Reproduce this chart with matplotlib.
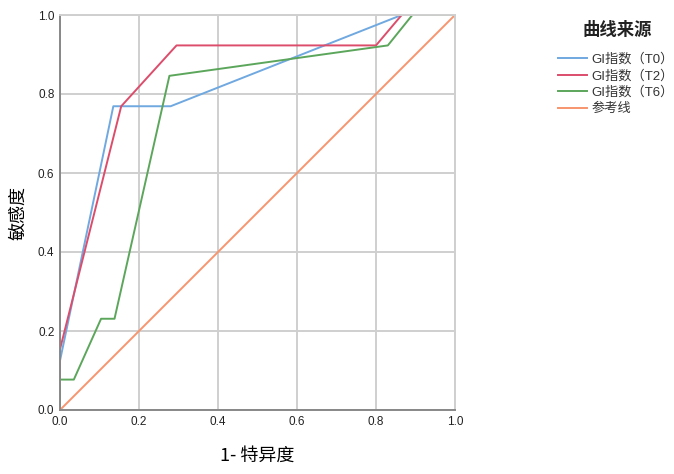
import matplotlib
matplotlib.use("Agg")
import matplotlib.pyplot as plt

plt.rcParams['font.family'] = ['Liberation Sans', 'Noto Sans CJK SC', 'DejaVu Sans']

# ROC curve points (1-specificity, sensitivity)
t0_x = [0.0, 0.0, 0.135, 0.28, 0.865, 1.0]
t0_y = [0.0, 0.125, 0.769, 0.769, 1.0, 1.0]
t2_x = [0.0, 0.0, 0.155, 0.295, 0.80, 0.865, 1.0]
t2_y = [0.0, 0.154, 0.769, 0.923, 0.923, 1.0, 1.0]
t6_x = [0.0, 0.0, 0.035, 0.104, 0.138, 0.277, 0.83, 0.892, 1.0]
t6_y = [0.0, 0.077, 0.077, 0.231, 0.231, 0.846, 0.923, 1.0, 1.0]
ref_x = [0.0, 1.0]
ref_y = [0.0, 1.0]

labels = ['GI指数（T0）', 'GI指数（T2）', 'GI指数（T6）', '参考线']
colors = ['#70a8e0', '#dc4d6c', '#5ca65c', '#f7956f']
ticks = [0.0, 0.2, 0.4, 0.6, 0.8, 1.0]

fig = plt.figure(figsize=(6.74, 4.74), dpi=100)
ax = fig.add_axes([60/674, 64/474, 395/674, 395/474])

ax.plot(t0_x, t0_y, color=colors[0], lw=1.4, label=labels[0])
ax.plot(t2_x, t2_y, color=colors[1], lw=1.4, label=labels[1])
ax.plot(t6_x, t6_y, color=colors[2], lw=1.4, label=labels[2])
ax.plot(ref_x, ref_y, color=colors[3], lw=1.4, label=labels[3])

ax.set_xlim(0, 1)
ax.set_ylim(0, 1)
ax.set_xticks(ticks)
ax.set_yticks(ticks)
ax.set_xticklabels(['%.1f' % t for t in ticks])
ax.set_yticklabels(['%.1f' % t for t in ticks])
ax.tick_params(length=0, labelsize=8.5, colors='#222222', pad=4)
ax.grid(True, color='#cfcfcf', lw=1.4)
ax.set_axisbelow(True)
for side in ['top', 'right']:
    ax.spines[side].set_color('#cfcfcf')
    ax.spines[side].set_linewidth(1.4)
for side in ['left', 'bottom']:
    ax.spines[side].set_color('#888888')
    ax.spines[side].set_linewidth(1.4)

ax.set_xlabel('1- 特异度', fontsize=13, family=['Noto Sans CJK SC'], labelpad=14)
ax.set_ylabel('敏感度', fontsize=13, family=['Noto Sans CJK SC'], labelpad=8)

# legend title drawn separately to get the wider gap
fig.text(617/674, 1 - 30/474, '曲线来源', ha='center', va='center', fontsize=12.5,
         fontweight='bold', family=['Noto Sans CJK SC'], color='#222222')
leg = fig.legend(loc='upper left', bbox_to_anchor=(553/674, 1 - 48/474), frameon=False,
                 fontsize=9.5, handlelength=2.2, handletextpad=0.3,
                 labelspacing=0.3, borderaxespad=0)
for t in leg.get_texts():
    t.set_color('#333333')

fig.savefig('out.png', dpi=100)
